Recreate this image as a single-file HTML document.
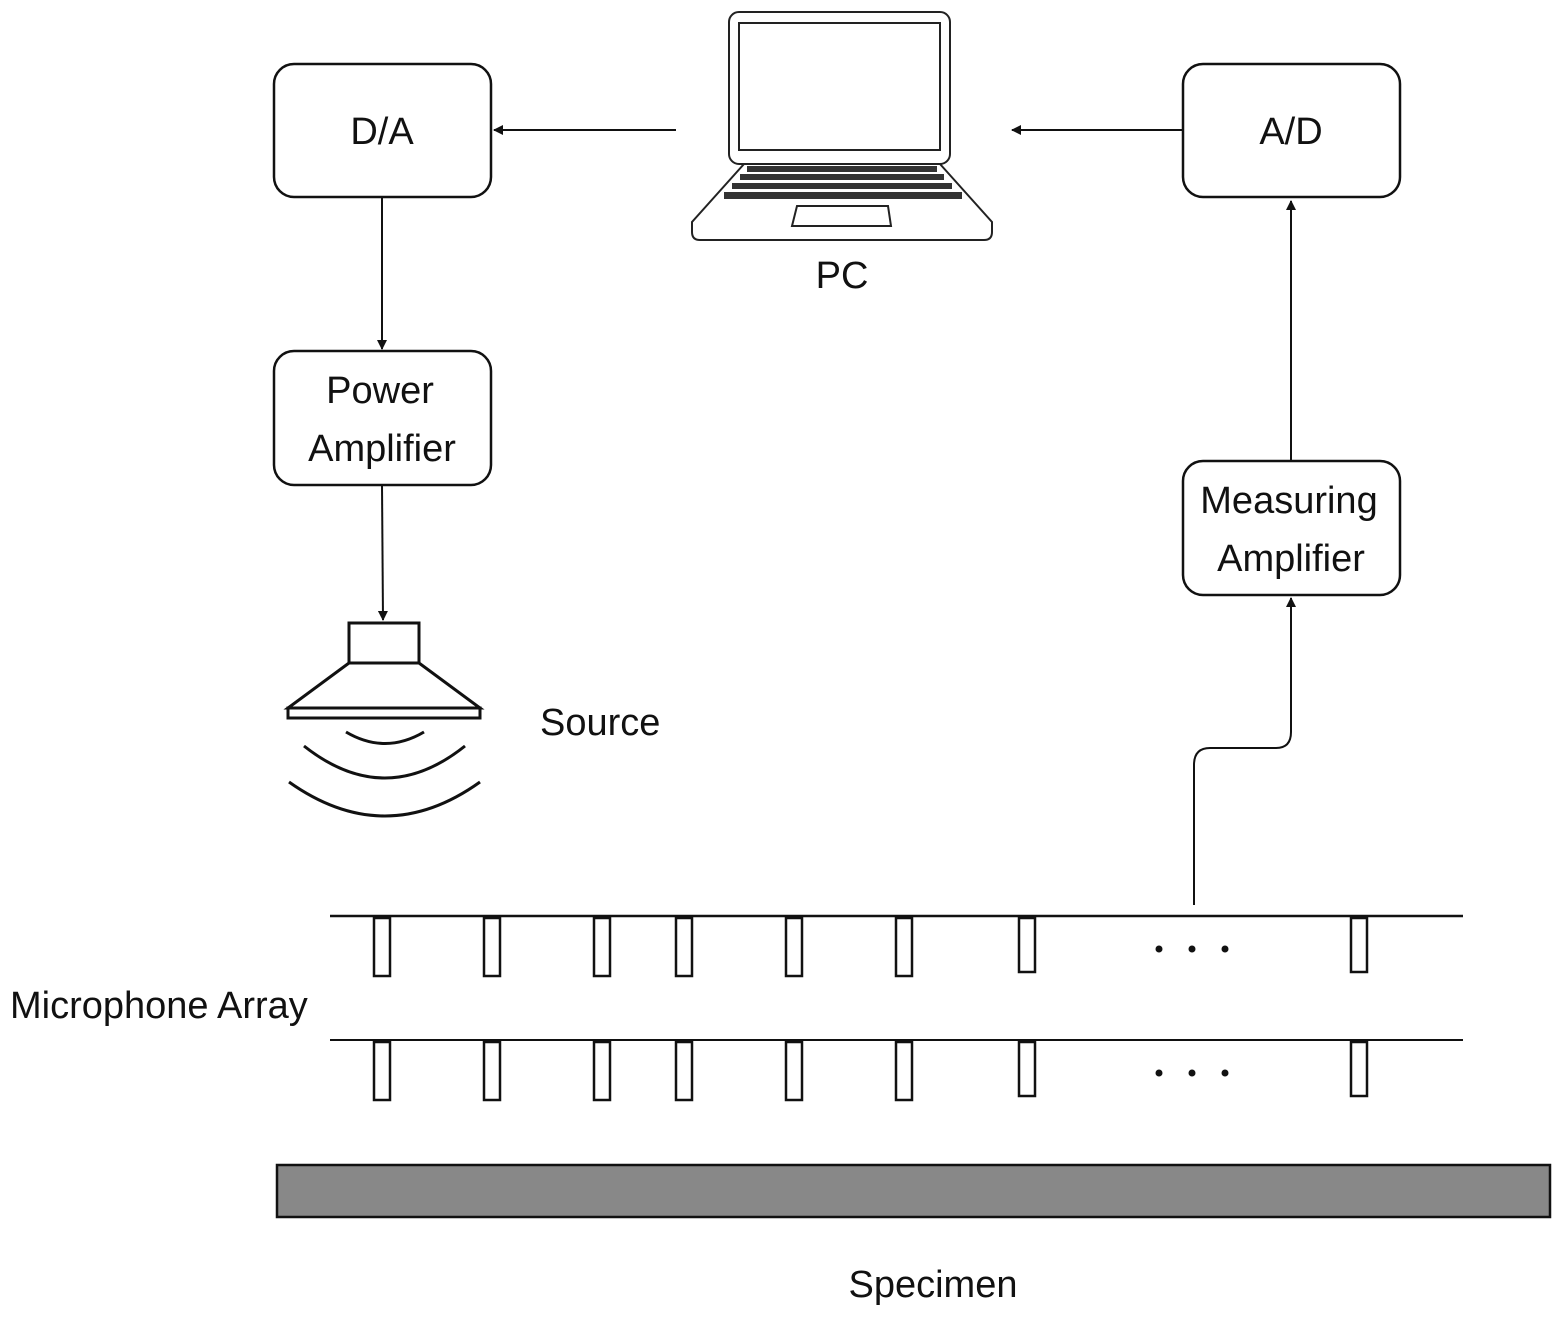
<!DOCTYPE html>
<html><head><style>body{margin:0;background:#fff}svg{display:block}text{font-family:"Liberation Sans",sans-serif;font-size:38px;fill:#111}</style></head><body>
<svg width="1561" height="1317" viewBox="0 0 1561 1317" xmlns="http://www.w3.org/2000/svg">
<defs><marker id="a" markerWidth="10" markerHeight="10" refX="9" refY="5" orient="auto" markerUnits="userSpaceOnUse" viewBox="0 0 10 10"><path d="M0,0 L10,5 L0,10z" fill="#111"/></marker></defs>
<g fill="none" stroke="#111" stroke-width="2.5">
<rect x="274" y="64" width="217" height="133" rx="20"/>
<rect x="1183" y="64" width="217" height="133" rx="20"/>
<rect x="274" y="351" width="217" height="134" rx="20"/>
<rect x="1183" y="461" width="217" height="134" rx="20"/>
</g>
<g stroke="#111" stroke-width="2" fill="none" marker-end="url(#a)">
<line x1="676" y1="130" x2="494" y2="130"/>
<line x1="1183" y1="130" x2="1012" y2="130"/>
<line x1="382" y1="197" x2="382" y2="349"/>
<line x1="382" y1="485" x2="383" y2="620"/>
<line x1="1291" y1="460" x2="1291" y2="201"/>
<path d="M1194,905 L1194,765 Q1194,748 1210,748 L1276,748 Q1291,748 1291,732 L1291,598"/>
</g>
<text x="382" y="144" text-anchor="middle">D/A</text>
<text x="1291" y="144" text-anchor="middle">A/D</text>
<text x="380" y="403" text-anchor="middle">Power</text>
<text x="382" y="461" text-anchor="middle">Amplifier</text>
<text x="1289" y="513" text-anchor="middle">Measuring</text>
<text x="1291" y="571" text-anchor="middle">Amplifier</text>
<text x="842" y="288" text-anchor="middle">PC</text>
<text x="540" y="735">Source</text>
<text x="10" y="1018">Microphone Array</text>
<text x="933" y="1297" text-anchor="middle">Specimen</text>
<g fill="none" stroke="#222" stroke-width="2">
<rect x="729" y="12" width="221" height="152" rx="10"/>
<rect x="739" y="23" width="201" height="127"/>
<path d="M744,164 L692,222 L692,232 Q692,240 700,240 L984,240 Q992,240 992,232 L992,222 L940,164"/>
<path d="M797,206 L888,206 L891,226 L792,226 Z"/>
</g>
<g fill="#333">
<rect x="747" y="166" width="190" height="6"/><rect x="740" y="174" width="204" height="6"/><rect x="732" y="183" width="220" height="6"/><rect x="724" y="192" width="238" height="7"/>
</g>
<g fill="none" stroke="#111" stroke-width="3">
<rect x="349" y="623" width="70" height="40"/>
<path d="M349,663 L288,708 L480,708 L419,663"/>
<rect x="288" y="708" width="192" height="10"/>
<path d="M346,732 Q385,755 424,732"/>
<path d="M304,746 Q385,810 465,746"/>
<path d="M289,782 Q385,850 480,782"/>
</g>
<line x1="330" y1="916" x2="1463" y2="916" stroke="#111" stroke-width="2.5"/>
<line x1="330" y1="1040" x2="1463" y2="1040" stroke="#111" stroke-width="2"/>
<g fill="#fff" stroke="#111" stroke-width="2.5">
<rect x="374" y="918" width="16" height="58"/><rect x="484" y="918" width="16" height="58"/><rect x="594" y="918" width="16" height="58"/><rect x="676" y="918" width="16" height="58"/><rect x="786" y="918" width="16" height="58"/><rect x="896" y="918" width="16" height="58"/><rect x="1019" y="918" width="16" height="54"/><rect x="1351" y="918" width="16" height="54"/>
<rect x="374" y="1042" width="16" height="58"/><rect x="484" y="1042" width="16" height="58"/><rect x="594" y="1042" width="16" height="58"/><rect x="676" y="1042" width="16" height="58"/><rect x="786" y="1042" width="16" height="58"/><rect x="896" y="1042" width="16" height="58"/><rect x="1019" y="1042" width="16" height="54"/><rect x="1351" y="1042" width="16" height="54"/>
</g>
<g fill="#111"><circle cx="1159" cy="949" r="3.5"/><circle cx="1192" cy="949" r="3.5"/><circle cx="1225" cy="949" r="3.5"/><circle cx="1159" cy="1073" r="3.5"/><circle cx="1192" cy="1073" r="3.5"/><circle cx="1225" cy="1073" r="3.5"/></g>
<rect x="277" y="1165" width="1273" height="52" fill="#888" stroke="#111" stroke-width="2.5"/>
</svg>
</body></html>
